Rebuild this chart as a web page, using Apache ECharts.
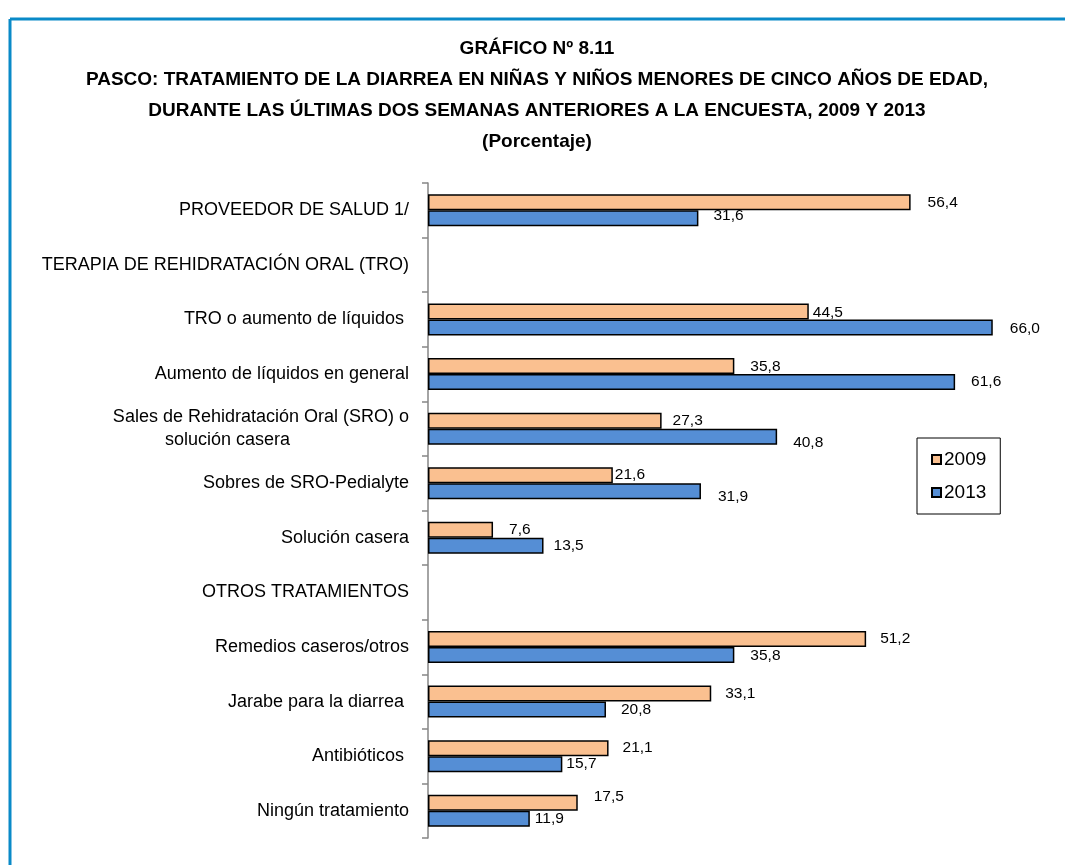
<!DOCTYPE html>
<html><head><meta charset="utf-8">
<script src="https://cdn.jsdelivr.net/npm/echarts@6/dist/echarts.min.js"></script>
<style>html,body{margin:0;padding:0;background:#fff}#c{width:1065px;height:865px}</style>
</head><body><div id="c"></div>
<script>
const categories = [
  'PROVEEDOR DE SALUD 1/',
  'TERAPIA DE REHIDRATACIÓN ORAL (TRO)',
  'TRO o aumento de líquidos ',
  'Aumento de líquidos en general',
  'Sales de Rehidratación Oral (SRO) o\nsolución casera',
  'Sobres de SRO-Pedialyte',
  'Solución casera',
  'OTROS TRATAMIENTOS',
  'Remedios caseros/otros',
  'Jarabe para la diarrea ',
  'Antibióticos ',
  'Ningún tratamiento'
];
const values2009 = [56.4, null, 44.5, 35.8, 27.3, 21.6, 7.6, null, 51.2, 33.1, 21.1, 17.5];
const values2013 = [31.6, null, 66.0, 61.6, 40.8, 31.9, 13.5, null, 35.8, 20.8, 15.7, 11.9];
const seriesNames = ['2009', '2013'];

// label nudges (style only)
const shift2009 = [[17,0],null,[4,1],[16,1],[11,0],[2,0],[16,0],null,[14,0],[14,0],[14,0],[16,-6]];
const shift2013 = [[15,-3],null,[17,1],[16,0],[16,6],[17,6],[10,0],null,[16,1],[15,0],[4,0],[5,0]];

const FONT = "'Liberation Sans', Arial, sans-serif";
const fmt = v => v.toFixed(1).replace('.', ',');

function mkData(vals, shifts) {
  return vals.map((v, i) => v == null ? null : {
    value: v,
    label: { offset: shifts[i] || [0,0] }
  });
}

const chart = echarts.init(document.getElementById('c'));
chart.setOption({
  backgroundColor: '#fff',
  animation: false,
  title: {
    text: 'GRÁFICO Nº 8.11\nPASCO: TRATAMIENTO DE LA DIARREA EN NIÑAS Y NIÑOS MENORES DE CINCO AÑOS DE EDAD,\nDURANTE LAS ÚLTIMAS DOS SEMANAS ANTERIORES A LA ENCUESTA, 2009 Y 2013\n(Porcentaje)',
    left: 532, textAlign: 'center', top: 28,
    textStyle: { fontFamily: FONT, fontWeight: 'bold', fontSize: 19, lineHeight: 31, color: '#000' }
  },
  graphic: [
    { type: 'line', shape: { x1: 10, y1: 19, x2: 1065, y2: 19 }, style: { stroke: '#0a8ac8', lineWidth: 3 } },
    { type: 'line', shape: { x1: 10, y1: 19, x2: 10, y2: 865 }, style: { stroke: '#0a8ac8', lineWidth: 3 } }
  ],
  legend: {
    data: seriesNames,
    orient: 'vertical',
    left: 917, top: 438,
    width: 82,
    padding: [12, 14, 12, 14],
    itemGap: 14,
    itemWidth: 9, itemHeight: 9,
    borderColor: '#000', borderWidth: 1,
    textStyle: { fontFamily: FONT, fontSize: 19, color: '#000', padding: [0,0,0,-2] },
    icon: 'rect'
  },
  grid: { left: 428, top: 183, width: 599, height: 655, containLabel: false },
  xAxis: { type: 'value', min: 0, max: 70, show: false },
  yAxis: {
    type: 'category', data: categories, inverse: true,
    axisLine: { lineStyle: { color: '#868686', width: 1.5 } },
    axisTick: { show: true, length: 6, lineStyle: { color: '#868686', width: 1.5 } },
    axisLabel: {
      margin: 19, fontFamily: FONT, fontSize: 18, lineHeight: 23, color: '#000',
      formatter: function (v) {
        const parts = v.split('\n');
        if (parts.length > 1) return parts[0] + '\n{b|' + parts[1] + '}';
        return v;
      },
      rich: { b: { fontFamily: FONT, fontSize: 18, lineHeight: 23, color: '#000', padding: [0, 119, 0, 0] } }
    }
  },
  series: [
    {
      name: seriesNames[0], type: 'bar', data: mkData(values2009, shift2009),
      barWidth: 16, barGap: '0%',
      itemStyle: { color: '#FAC090', borderColor: '#000', borderWidth: 1.5 },
      label: { show: true, position: 'right', distance: 0, formatter: p => fmt(p.value), fontFamily: FONT, fontSize: 15.5, color: '#000' }
    },
    {
      name: seriesNames[1], type: 'bar', data: mkData(values2013, shift2013),
      barWidth: 16, barGap: '0%',
      itemStyle: { color: '#558ED5', borderColor: '#000', borderWidth: 1.5 },
      label: { show: true, position: 'right', distance: 0, formatter: p => fmt(p.value), fontFamily: FONT, fontSize: 15.5, color: '#000' }
    }
  ]
});
</script></body></html>
